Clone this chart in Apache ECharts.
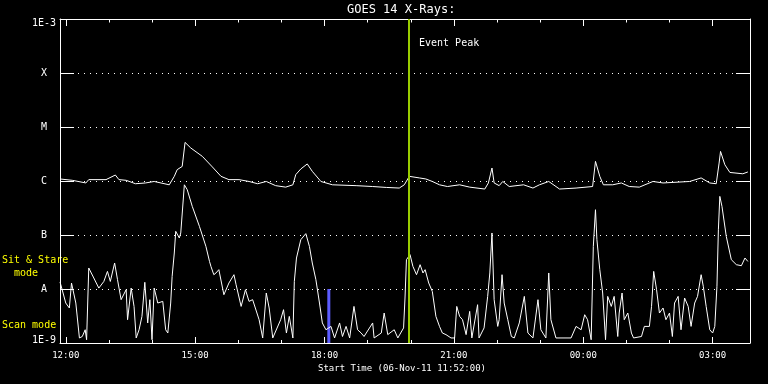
<!DOCTYPE html>
<html>
<head>
<meta charset="utf-8">
<script src="https://cdn.jsdelivr.net/npm/echarts@6/dist/echarts.min.js"></script>
<style>
html,body{margin:0;padding:0;background:#000;}
#chart{width:768px;height:384px;}
</style>
</head>
<body>
<div id="chart"></div>
<script>
// Time in minutes after 12:00 on 06-Nov-11 (start 11:52, end 03:52 next day)
const startMin = -8;
const endMin = 952;
const majorTicks = [0, 180, 360, 540, 720, 900];
const minorTicks = [0, 60, 120, 180, 240, 300, 360, 420, 480, 540, 600, 660, 720, 780, 840, 900];
const tickLabels = ['12:00', '15:00', '18:00', '21:00', '00:00', '03:00'];
const yLabels = ['1E-9', 'A', 'B', 'C', 'M', 'X', '1E-3'];

// Long channel (1-8 A), W/m^2
const longTimes = [
  -8, 9, 28, 32, 56, 69, 74, 84, 97, 111,
  123, 144, 151, 155, 162, 166, 174, 190, 204, 216,
  227, 241, 255, 267, 279, 292, 306, 316, 320, 327,
  336, 343, 355, 371, 404, 427, 446, 464, 471, 478,
  492, 501, 510, 520, 531, 548, 562, 583, 588, 593,
  596, 603, 608, 617, 637, 650, 659, 672, 687, 710,
  733, 737, 743, 748, 761, 773, 784, 798, 817, 831,
  868, 884, 896, 905, 909, 911, 917, 924, 942, 949
];
const longFlux = [
  1.09e-6, 1.03e-6, 9.2e-7, 1.06e-6, 1.06e-6, 1.29e-6, 1.06e-6, 1.03e-6, 8.9e-7, 9.2e-7,
  9.8e-7, 8.5e-7, 1.22e-6, 1.62e-6, 1.86e-6, 5.19e-6, 4.08e-6, 2.86e-6, 1.82e-6, 1.22e-6,
  1.06e-6, 1.06e-6, 9.8e-7, 8.9e-7, 9.8e-7, 8.2e-7, 7.7e-7, 8.5e-7, 1.31e-6, 1.67e-6,
  2.07e-6, 1.51e-6, 9.8e-7, 8.5e-7, 8.2e-7, 7.9e-7, 7.6e-7, 7.4e-7, 8.5e-7, 1.22e-6,
  1.14e-6, 1.09e-6, 9.8e-7, 8.5e-7, 7.9e-7, 8.5e-7, 7.7e-7, 7.1e-7, 9.2e-7, 1.74e-6,
  9.2e-7, 8.2e-7, 9.8e-7, 7.9e-7, 8.5e-7, 7.4e-7, 8.5e-7, 9.8e-7, 7.1e-7, 7.4e-7,
  7.9e-7, 2.31e-6, 1.22e-6, 8.5e-7, 8.5e-7, 9.2e-7, 7.9e-7, 7.7e-7, 9.8e-7, 9.2e-7,
  9.8e-7, 1.14e-6, 9.2e-7, 8.9e-7, 2.15e-6, 3.53e-6, 2.0e-6, 1.44e-6, 1.36e-6, 1.47e-6
];

// Short channel (0.5-4 A), W/m^2
const shortTimes = [
  -8, -5, 0, 5, 8, 10, 14, 19, 23, 27,
  29, 32, 39, 46, 53, 58, 62, 68, 72, 77,
  84, 86, 91, 95, 98, 102, 106, 110, 114, 117,
  120, 123, 128, 135, 139, 142, 146, 148, 151, 153,
  158, 160, 165, 169, 176, 186, 195, 200, 202, 206,
  209, 213, 220, 227, 234, 237, 244, 250, 255, 260,
  269, 274, 279, 283, 288, 299, 303, 307, 311, 316,
  318, 321, 327, 334, 339, 343, 348, 353, 357, 362,
  369, 374, 381, 385, 390, 395, 401, 406, 411, 415,
  427, 429, 439, 443, 448, 457, 462, 470, 472, 474,
  479, 483, 488, 493, 497, 500, 505, 510, 515, 520,
  524, 529, 536, 541, 544, 548, 552, 557, 562, 565,
  573, 575, 582, 587, 590, 593, 596, 601, 603, 607,
  610, 615, 620, 624, 631, 638, 643, 650, 657, 661,
  668, 672, 675, 682, 696, 703, 710, 717, 722, 726,
  731, 734, 737, 739, 743, 747, 751, 754, 759, 763,
  768, 770, 774, 777, 782, 787, 790, 801, 805, 812,
  815, 818, 822, 826, 831, 835, 840, 844, 847, 852,
  856, 861, 866, 870, 875, 879, 884, 887, 891, 896,
  900, 903, 906, 908, 910, 913, 919, 926, 933, 940,
  945, 949
];
const shortFlux = [
  1.35e-8, 9.7e-9, 5.5e-9, 4.45e-9, 1.29e-8, 1.38e-8, 5.5e-9, 1.24e-9, 1.32e-9, 1.76e-9,
  1.15e-9, 2.45e-8, 1.6e-8, 1.04e-8, 1.38e-8, 2.12e-8, 1.38e-8, 3.03e-8, 1.49e-8, 6.34e-9,
  9.7e-9, 2.7e-9, 1.04e-8, 4.76e-9, 1.24e-9, 1.76e-9, 3.11e-9, 1.33e-8, 2.35e-9, 6.34e-9,
  1.15e-9, 1.04e-8, 5.5e-9, 5.9e-9, 1.76e-9, 1.53e-9, 5.5e-9, 1.71e-8, 4.64e-8, 1.17e-7,
  8.8e-8, 1.09e-7, 8.5e-7, 6.9e-7, 3.39e-7, 1.44e-7, 6.15e-8, 3.24e-8, 2.62e-8, 1.84e-8,
  1.98e-8, 2.28e-8, 7.84e-9, 1.29e-8, 1.84e-8, 1.2e-8, 4.76e-9, 9.7e-9, 5.9e-9, 6.34e-9,
  2.7e-9, 1.24e-9, 8.43e-9, 4.45e-9, 1.24e-9, 2.7e-9, 4.14e-9, 1.53e-9, 3.11e-9, 1.24e-9,
  1.38e-8, 3.75e-8, 8.18e-8, 1.06e-7, 6.15e-8, 3.03e-8, 1.49e-8, 5.5e-9, 2.35e-9, 1.76e-9,
  2.03e-9, 1.24e-9, 2.35e-9, 1.32e-9, 2.03e-9, 1.24e-9, 4.76e-9, 1.76e-9, 1.53e-9, 1.32e-9,
  2.35e-9, 1.24e-9, 1.53e-9, 3.59e-9, 1.43e-9, 1.76e-9, 1.24e-9, 1.9e-9, 6.81e-9, 3.49e-8,
  4.32e-8, 2.62e-8, 1.84e-8, 2.82e-8, 1.98e-8, 2.28e-8, 1.29e-8, 9.0e-9, 3.11e-9, 2.03e-9,
  1.53e-9, 1.43e-9, 1.24e-9, 1.24e-9, 4.76e-9, 3.11e-9, 2.7e-9, 1.43e-9, 3.85e-9, 1.24e-9,
  5.12e-9, 1.24e-9, 1.9e-9, 7.3e-9, 1.98e-8, 1.09e-7, 6.34e-9, 2.03e-9, 2.7e-9, 1.84e-8,
  5.5e-9, 2.7e-9, 1.32e-9, 1.24e-9, 2.35e-9, 7.3e-9, 1.53e-9, 1.24e-9, 6.34e-9, 1.76e-9,
  1.24e-9, 1.98e-8, 2.7e-9, 1.24e-9, 1.24e-9, 1.24e-9, 2.03e-9, 1.76e-9, 3.34e-9, 2.7e-9,
  1.15e-9, 6.15e-8, 2.94e-7, 8.18e-8, 2.28e-8, 8.43e-9, 1.15e-9, 7.3e-9, 4.76e-9, 7.3e-9,
  1.32e-9, 3.59e-9, 8.43e-9, 2.7e-9, 3.59e-9, 1.53e-9, 1.24e-9, 1.32e-9, 2.03e-9, 2.03e-9,
  4.76e-9, 2.12e-8, 9.7e-9, 3.59e-9, 4.45e-9, 2.7e-9, 3.59e-9, 1.32e-9, 5.5e-9, 7.3e-9,
  1.76e-9, 6.81e-9, 4.76e-9, 2.03e-9, 5.5e-9, 7.3e-9, 1.84e-8, 1.12e-8, 4.76e-9, 1.76e-9,
  1.53e-9, 2.03e-9, 1.12e-8, 1.25e-7, 5.19e-7, 3.39e-7, 9.4e-8, 3.49e-8, 2.82e-8, 2.7e-8,
  3.75e-8, 3.24e-8
];

// Event peak time and scan-mode marker
const eventTime = 477;
const scanTime = 366;
const scanRange = [1e-9, 1e-8];

const mono = 'DejaVu Sans Mono';
const zip = (t, v) => t.map((x, i) => [x, v[i]]);

const chart = echarts.init(document.getElementById('chart'), null, {renderer: 'canvas'});

function xAxisDef(pos, ticks, len, showLine, showLabel) {
  return {
    type: 'value', min: startMin, max: endMin, position: pos,
    axisLine: {show: showLine, onZero: false, lineStyle: {color: '#fff', width: 1}},
    axisTick: {show: true, inside: true, length: len, customValues: ticks, lineStyle: {color: '#fff', width: 1}},
    axisLabel: {
      show: showLabel, customValues: majorTicks, color: '#fff', fontFamily: mono, fontSize: 9, margin: 8,
      formatter: v => tickLabels[majorTicks.indexOf(Math.round(v))] || ''
    },
    splitLine: {show: false}
  };
}

const option = {
  backgroundColor: '#000',
  animation: false,
  grid: {left: 60, right: 18, top: 19, bottom: 41, containLabel: false},
  xAxis: [
    xAxisDef('bottom', majorTicks, 6, true, true),
    xAxisDef('bottom', minorTicks, 3, false, false),
    xAxisDef('top', majorTicks, 7, true, false),
    xAxisDef('top', minorTicks, 3.5, false, false)
  ],
  yAxis: [
    {
      type: 'log', logBase: 10, min: 1e-9, max: 1e-3, interval: 1, splitNumber: 6, position: 'left',
      axisLine: {show: true, onZero: false, lineStyle: {color: '#fff', width: 1}},
      axisTick: {show: true, inside: true, length: 14, lineStyle: {color: '#fff', width: 1}},
      axisLabel: {
        color: '#fff', fontFamily: mono, fontSize: 10, align: 'center', margin: 16,
        formatter: v => {
          const k = Math.round(Math.log10(v)) + 9;
          const s = yLabels[k] || '';
          if (k === 0) return '{lo|' + s + '}';
          if (k === 6) return '{hi|' + s + '}';
          return s;
        },
        rich: {
          lo: {color: '#fff', fontFamily: mono, fontSize: 10, padding: [0, 0, 6, 0]},
          hi: {color: '#fff', fontFamily: mono, fontSize: 10, padding: [8, 0, 0, 0]}
        }
      },
      splitLine: {show: true, lineStyle: {color: '#fff', width: 1, type: [1, 5]}}
    },
    {
      type: 'log', logBase: 10, min: 1e-9, max: 1e-3, interval: 1, splitNumber: 6, position: 'right',
      axisLine: {show: true, onZero: false, lineStyle: {color: '#fff', width: 1}},
      axisTick: {show: true, inside: true, length: 14, lineStyle: {color: '#fff', width: 1}},
      axisLabel: {show: false},
      splitLine: {show: false}
    }
  ],
  series: [
    {
      name: 'scan', type: 'line', xAxisIndex: 0, yAxisIndex: 0, z: 1,
      data: [[scanTime, scanRange[0]], [scanTime, scanRange[1]]],
      symbol: 'none', lineStyle: {color: '#5c5cff', width: 3}, silent: true
    },
    {
      name: 'long', type: 'line', xAxisIndex: 0, yAxisIndex: 0, z: 2,
      data: zip(longTimes, longFlux), symbol: 'none', clip: true,
      lineStyle: {color: '#fff', width: 1}
    },
    {
      name: 'short', type: 'line', xAxisIndex: 0, yAxisIndex: 0, z: 2,
      data: zip(shortTimes, shortFlux), symbol: 'none', clip: true,
      lineStyle: {color: '#fff', width: 1},
      markLine: {
        silent: true, symbol: 'none', label: {show: false}, z: 5,
        lineStyle: {color: '#99cc00', width: 2, type: 'solid'},
        data: [{xAxis: eventTime}]
      }
    }
  ],
  graphic: [
    {type: 'text', left: 347, top: 4, style: {text: 'GOES 14 X-Rays:', fill: '#fff', font: '12px "' + mono + '"'}},
    {type: 'text', left: 419, top: 38, style: {text: 'Event Peak', fill: '#fff', font: '10px "' + mono + '"'}},
    {type: 'text', left: 318, top: 364, style: {text: 'Start Time (06-Nov-11 11:52:00)', fill: '#fff', font: '9px "' + mono + '"'}},
    {type: 'text', left: 2, top: 255, style: {text: 'Sit & Stare', fill: '#ffff00', font: '10px "' + mono + '"'}},
    {type: 'text', left: 14, top: 268, style: {text: 'mode', fill: '#ffff00', font: '10px "' + mono + '"'}},
    {type: 'text', left: 2, top: 320, style: {text: 'Scan mode', fill: '#ffff00', font: '10px "' + mono + '"'}}
  ]
};
chart.setOption(option);
</script>
</body>
</html>
